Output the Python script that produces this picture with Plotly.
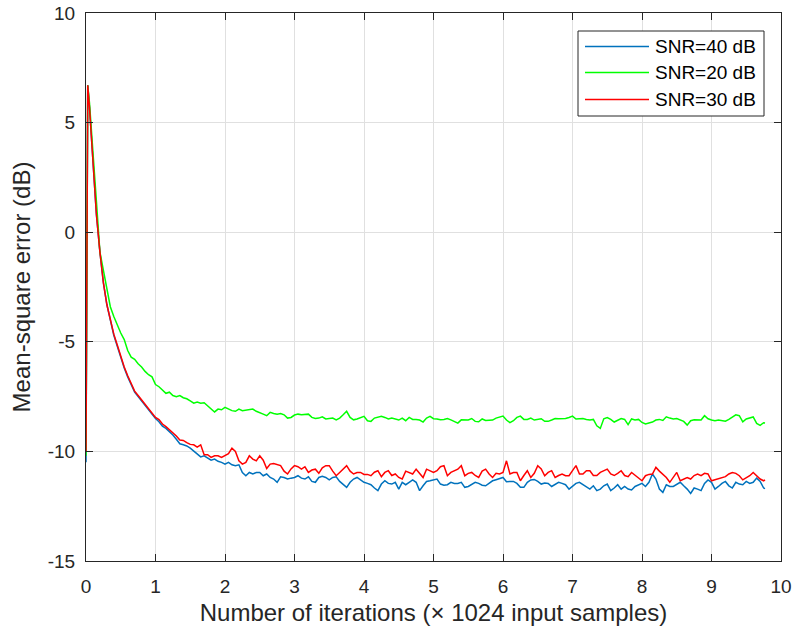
import numpy as np
import plotly.graph_objects as go

# ---- data ----
# iteration axis: (x 1024 input samples)
x_iter = np.concatenate([[0.0, 0.025], np.round(np.arange(1, 196) * 0.05, 2), [9.77]])

mse_snr40 = [
    -10.5, 6.7,
    5.7, 3.3, 0.8, -0.9, -2.3, -3.3, -4.05, -4.7, -5.2, -5.75,
    -6.2, -6.6, -6.95, -7.3, -7.5, -7.7, -7.9, -8.1, -8.35, -8.5,
    -8.65, -8.85, -8.95, -9.1, -9.25, -9.45, -9.65, -9.7, -9.75, -9.85,
    -9.98, -10.1, -10.25, -10.2, -10.3, -10.4, -10.35, -10.45, -10.5, -10.58,
    -10.5, -10.61, -10.65, -10.61, -10.96, -11.11, -10.96, -11.03, -10.96, -10.96,
    -11.11, -11.03, -11.19, -11.26, -11.41, -11.16, -11.19, -11.26, -11.22, -11.19,
    -11.11, -11.22, -11.26, -11.16, -11.37, -11.41, -11.19, -11.14, -11.19, -11.3,
    -11.19, -11.16, -11.37, -11.52, -11.64, -11.41, -11.26, -11.19, -11.3, -11.41,
    -11.46, -11.52, -11.67, -11.79, -11.49, -11.34, -11.46, -11.49, -11.41, -11.72,
    -11.41, -11.52, -11.41, -11.3, -11.41, -11.79, -11.57, -11.37, -11.34, -11.3,
    -11.26, -11.49, -11.54, -11.52, -11.41, -11.46, -11.46, -11.41, -11.64, -11.6,
    -11.52, -11.41, -11.46, -11.54, -11.57, -11.46, -11.34, -11.29, -11.23, -11.19,
    -11.38, -11.37, -11.37, -11.46, -11.64, -11.64, -11.41, -11.3, -11.28, -11.37,
    -11.49, -11.44, -11.46, -11.6, -11.52, -11.41, -11.46, -11.52, -11.72, -11.57,
    -11.46, -11.41, -11.52, -11.6, -11.72, -11.57, -11.79, -11.72, -11.57, -11.49,
    -11.79, -11.67, -11.52, -11.72, -11.6, -11.72, -11.76, -11.6, -11.52, -11.46,
    -11.6, -11.41, -11.03, -11.26, -11.72, -11.87, -11.52, -11.6, -11.6, -11.52,
    -11.41, -11.57, -11.72, -11.92, -11.67, -11.72, -11.79, -11.46, -11.3, -11.41,
    -11.72, -11.6, -11.46, -11.37, -11.57, -11.67, -11.41, -11.49, -11.52, -11.37,
    -11.46, -11.41, -11.22, -11.37, -11.67,
    -11.7,
]

mse_snr20 = [
    -10.2, 6.7,
    5.9, 3.8, 1.4, -0.9, -1.75, -2.6, -3.4, -3.85, -4.25, -4.6,
    -4.9, -5.4, -5.7, -5.8, -6.0, -6.15, -6.35, -6.5, -6.6, -6.95,
    -7.05, -7.2, -7.35, -7.3, -7.45, -7.5, -7.45, -7.55, -7.6, -7.7,
    -7.8, -7.75, -7.8, -7.78, -7.93, -8.07, -8.2, -8.07, -8.1, -7.99,
    -8.07, -8.14, -8.17, -8.07, -8.14, -8.11, -8.07, -8.07, -8.17, -8.22,
    -8.3, -8.37, -8.22, -8.27, -8.3, -8.27, -8.33, -8.48, -8.45, -8.34,
    -8.3, -8.33, -8.3, -8.3, -8.45, -8.5, -8.48, -8.42, -8.52, -8.5,
    -8.48, -8.56, -8.48, -8.33, -8.17, -8.45, -8.56, -8.52, -8.45, -8.4,
    -8.6, -8.63, -8.48, -8.45, -8.4, -8.45, -8.52, -8.48, -8.52, -8.57,
    -8.48, -8.6, -8.45, -8.54, -8.54, -8.57, -8.66, -8.48, -8.4, -8.51,
    -8.52, -8.56, -8.54, -8.5, -8.56, -8.63, -8.71, -8.56, -8.57, -8.57,
    -8.5, -8.63, -8.65, -8.52, -8.59, -8.59, -8.57, -8.48, -8.42, -8.39,
    -8.57, -8.69, -8.6, -8.45, -8.39, -8.54, -8.54, -8.48, -8.57, -8.54,
    -8.51, -8.63, -8.63, -8.57, -8.5, -8.51, -8.52, -8.5, -8.45, -8.39,
    -8.52, -8.51, -8.5, -8.54, -8.57, -8.54, -8.83, -8.95, -8.51, -8.46,
    -8.54, -8.66, -8.57, -8.5, -8.54, -8.78, -8.52, -8.57, -8.54, -8.68,
    -8.75, -8.72, -8.66, -8.57, -8.54, -8.59, -8.42, -8.48, -8.52, -8.5,
    -8.57, -8.63, -8.8, -8.6, -8.56, -8.56, -8.57, -8.37, -8.51, -8.57,
    -8.6, -8.57, -8.6, -8.62, -8.54, -8.45, -8.33, -8.37, -8.65, -8.52,
    -8.48, -8.43, -8.72, -8.81, -8.69,
    -8.7,
]

mse_snr30 = [
    -10.0, 6.7,
    5.7, 3.3, 0.8, -0.9, -2.3, -3.3, -4.0, -4.65, -5.15, -5.7,
    -6.15, -6.55, -6.9, -7.25, -7.45, -7.65, -7.85, -8.05, -8.3, -8.45,
    -8.55, -8.75, -8.87, -9.0, -9.15, -9.3, -9.48, -9.5, -9.6, -9.68,
    -9.7, -9.8, -9.7, -10.15, -10.15, -10.27, -10.2, -10.2, -10.27, -10.2,
    -10.1, -9.85, -10.0, -10.43, -10.58, -10.5, -10.2, -10.35, -10.43, -10.2,
    -10.4, -10.78, -10.58, -10.55, -10.6, -10.65, -10.9, -11.03, -10.8, -10.65,
    -10.7, -10.81, -10.7, -10.96, -10.85, -10.81, -11.0, -10.75, -10.65, -10.65,
    -10.9, -11.11, -10.96, -10.81, -10.65, -10.9, -11.03, -10.96, -10.96, -11.05,
    -11.05, -11.11, -10.95, -10.88, -11.15, -10.96, -10.88, -11.1, -11.03, -11.19,
    -11.26, -10.9, -10.96, -11.03, -10.81, -11.0, -11.19, -10.81, -10.9, -10.96,
    -10.88, -10.7, -10.65, -11.11, -10.96, -10.9, -10.81, -10.65, -11.11, -11.0,
    -10.96, -11.1, -11.19, -10.9, -10.81, -11.03, -11.19, -11.0, -11.03, -10.96,
    -10.43, -11.03, -10.96, -10.96, -11.34, -11.1, -10.88, -11.19, -11.0, -10.65,
    -10.8, -11.11, -10.96, -10.88, -11.19, -11.1, -11.03, -11.11, -11.11, -10.88,
    -10.65, -11.03, -11.03, -10.88, -10.88, -11.1, -11.1, -10.96, -10.9, -10.81,
    -11.03, -11.1, -11.0, -10.88, -11.1, -11.15, -10.96, -11.1, -11.2, -11.34,
    -11.11, -11.05, -11.03, -10.73, -10.9, -11.03, -11.19, -11.41, -11.2, -10.96,
    -11.34, -11.26, -11.19, -11.26, -11.1, -11.03, -11.11, -11.0, -11.03, -11.34,
    -11.3, -11.26, -11.19, -11.15, -11.03, -10.96, -11.0, -11.11, -11.3, -11.2,
    -11.11, -10.96, -11.1, -11.26, -11.34,
    -11.3,
]

series_names = ["SNR=40 dB", "SNR=20 dB", "SNR=30 dB"]
series_values = [mse_snr40, mse_snr20, mse_snr30]
series_colors = ["#0072BD", "#00FF00", "#FF0000"]

x_ticks = list(range(0, 11))
y_ticks = [-15, -10, -5, 0, 5, 10]
y_ticktext = ["-15", "-10", "-5", "0", "5", "10"]

FONT = "Liberation Sans, Arial, Helvetica, sans-serif"
AX = "#262626"

fig = go.Figure()
for name, vals, col in zip(series_names, series_values, series_colors):
    fig.add_trace(go.Scatter(x=x_iter, y=vals, mode="lines", name=name,
                             line=dict(color=col, width=1.5), showlegend=False))

# ---- plot-area geometry (pixels) ----
W, H = 793, 633
L, R, T, B = 86, 12, 13, 72
pw, ph = W - L - R, H - T - B

def px2paper(px, py):
    return (px - L) / pw, (H - B - py) / ph

# manual MATLAB-style legend
x0, y0 = px2paper(578, 31)
x1, y1 = px2paper(764, 116)
fig.add_shape(type="rect", xref="paper", yref="paper", x0=x0, y0=y1, x1=x1, y1=y0,
              line=dict(color=AX, width=1), fillcolor="white", layer="above")
rows_py = [46.5, 72.5, 99.5]
for name, col, py in zip(series_names, series_colors, rows_py):
    lx0, ly = px2paper(585, py)
    lx1, _ = px2paper(649, py)
    fig.add_shape(type="line", xref="paper", yref="paper", x0=lx0, x1=lx1, y0=ly, y1=ly,
                  line=dict(color=col, width=1.5), layer="above")
    tx, _ = px2paper(653, py)
    fig.add_annotation(xref="paper", yref="paper", x=tx, y=ly, text=name, showarrow=False,
                       xanchor="left", yanchor="middle",
                       font=dict(family=FONT, size=19, color="#000000"))

axis_common = dict(showgrid=True, gridcolor="#E0E0E0", gridwidth=1, zeroline=False,
                   showline=True, linecolor=AX, linewidth=1, mirror="allticks",
                   ticks="inside", ticklen=7, tickcolor=AX, tickwidth=1,
                   automargin=False,
                   tickfont=dict(family=FONT, size=19, color=AX))

fig.update_layout(
    width=W, height=H,
    margin=dict(l=L, r=R, t=T, b=B, pad=0, autoexpand=False),
    paper_bgcolor="white", plot_bgcolor="white",
    showlegend=False,
    xaxis=dict(range=[0, 10], tickvals=x_ticks, ticktext=[str(v) for v in x_ticks],
               ticklabelstandoff=8,
               title=dict(text="Number of iterations (\u00d7 1024 input samples)",
                          font=dict(family=FONT, size=24, color=AX), standoff=8),
               **axis_common),
    yaxis=dict(range=[-15, 10], tickvals=y_ticks, ticktext=y_ticktext,
               ticklabelstandoff=6,
               title=dict(text="Mean-square error (dB)",
                          font=dict(family=FONT, size=24, color=AX), standoff=10),
               **axis_common),
)

fig.write_html("out.html")
